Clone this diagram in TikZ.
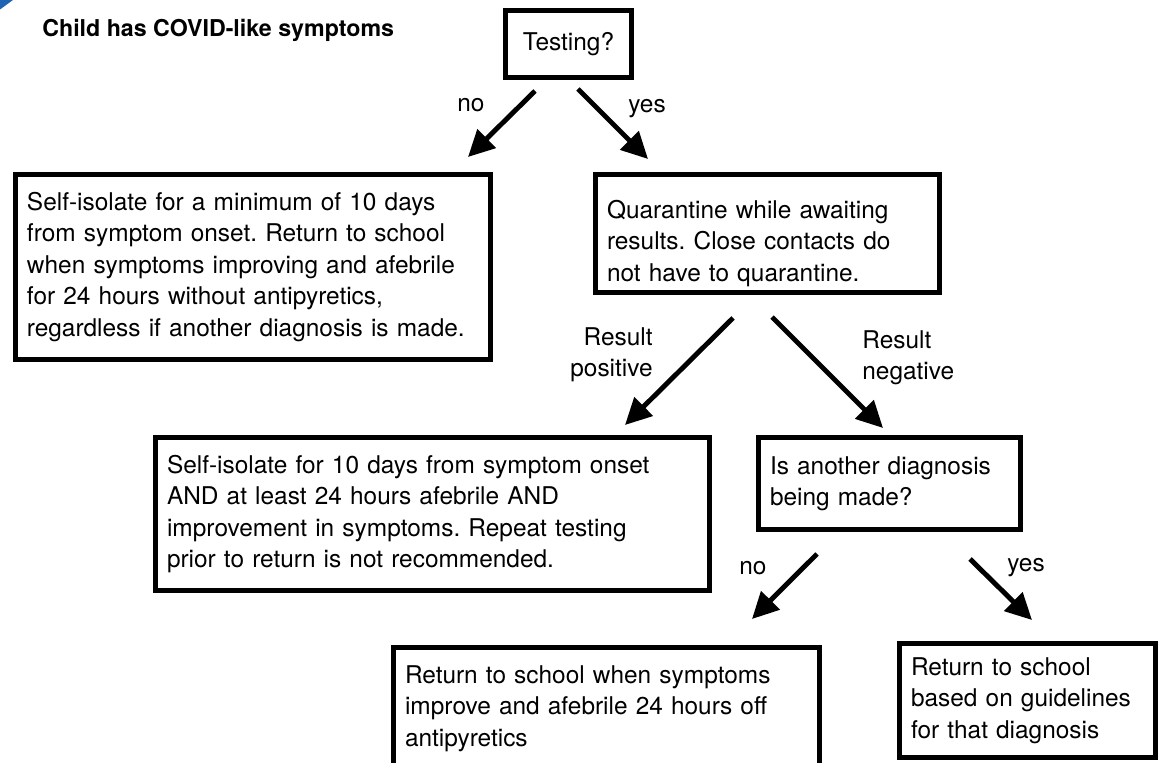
\documentclass[tikz,border=0pt]{standalone}
\usepackage{fontspec}
\setmainfont{TeX Gyre Heros}
\usetikzlibrary{arrows.meta}
\definecolor{cornerblue}{RGB}{30,100,178}
\frenchspacing

\begin{document}
\begin{tikzpicture}[
        font=\fontsize{13.9}{17.9}\selectfont,
        box/.style={draw,line width=2.8pt,inner xsep=0.23cm,inner ysep=0.1cm,align=left},
        lbl/.style={inner sep=0pt},
        arr/.style={line width=2.8pt,-{Triangle[length=15pt,width=14.5pt]}}
    ]
    \clip (0,0) rectangle (23.18,15.24);
    %% corner mark
    \fill[cornerblue] (0,15.24) -- (0.26,15.24) -- (0,15.05) -- cycle;
    %% title
    \node[lbl,anchor=base west,font=\fontsize{13.2}{16}\selectfont\bfseries] (title) at (0.84,14.5) {Child has COVID-like symptoms};
    %% testing
    \node[box,minimum width=2.52cm,minimum height=1.34cm,inner xsep=0pt] (testing) at (11.37,14.36) {Testing?};
    %% no test
    \node[box,text width=9.04cm,minimum height=3.7cm] (isolate) at (5.06,9.9) {Self-isolate for a minimum of 10 days\\from symptom onset. Return to school\\when symptoms improving and afebrile\\for 24 hours without antipyretics,\\regardless if another diagnosis is made.};
    %% test
    \node[box,text width=6.42cm,minimum height=2.36cm,text height=0.75cm] (quarantine) at (15.35,10.57) {Quarantine while awaiting\\results. Close contacts do\\not have to quarantine.};
    %% positive
    \node[box,text width=10.62cm,minimum height=3.06cm] (positive) at (8.65,4.96) {Self-isolate for 10 days from symptom onset\\AND at least 24 hours afebrile AND\\improvement in symptoms. Repeat testing\\prior to return is not recommended.};
    %% negative
    \node[box,text width=4.78cm,minimum height=1.84cm] (diagnosis) at (17.79,5.57) {Is another diagnosis\\being made?};
    \node[box,text width=8.06cm,anchor=north,inner ysep=0.35cm,text depth=2cm] (improve) at (12.13,2.33) {Return to school when symptoms\\improve and afebrile 24 hours off\\antipyretics};
    \node[box,text width=4.66cm,minimum height=2.28cm] (guidelines) at (20.55,1.23) {Return to school\\based on guidelines\\for that diagnosis};
    %% labels
    \node[lbl,anchor=base west] (testno) at (9.14,13.0) {no};
    \node[lbl,anchor=base west] (testyes) at (12.56,12.98) {yes};
    \node[lbl,anchor=base east,align=right] (respos) at (13.06,7.71) {Result\\positive};
    \node[lbl,anchor=base west,align=left] (resneg) at (17.24,7.65) {Result\\negative};
    \node[lbl,anchor=base west] (diagno) at (14.78,3.74) {no};
    \node[lbl,anchor=base west] (diagyes) at (20.14,3.8) {yes};
    %% arrows
    \coordinate (noA) at (10.70,13.42);
    \coordinate (noB) at (9.36,12.10);
    \coordinate (yesA) at (11.56,13.46);
    \coordinate (yesB) at (12.96,12.06);
    \coordinate (posA) at (14.66,8.88);
    \coordinate (posB) at (12.50,6.74);
    \coordinate (negA) at (15.44,8.90);
    \coordinate (negB) at (17.66,6.68);
    \coordinate (dnoA) at (16.34,4.16);
    \coordinate (dnoB) at (15.04,2.86);
    \coordinate (dyesA) at (19.40,4.06);
    \coordinate (dyesB) at (20.64,2.84);
    \draw[arr] (noA) -- (noB);
    \draw[arr] (yesA) -- (yesB);
    \draw[arr] (posA) -- (posB);
    \draw[arr] (negA) -- (negB);
    \draw[arr] (dnoA) -- (dnoB);
    \draw[arr] (dyesA) -- (dyesB);
\end{tikzpicture}
\end{document}
